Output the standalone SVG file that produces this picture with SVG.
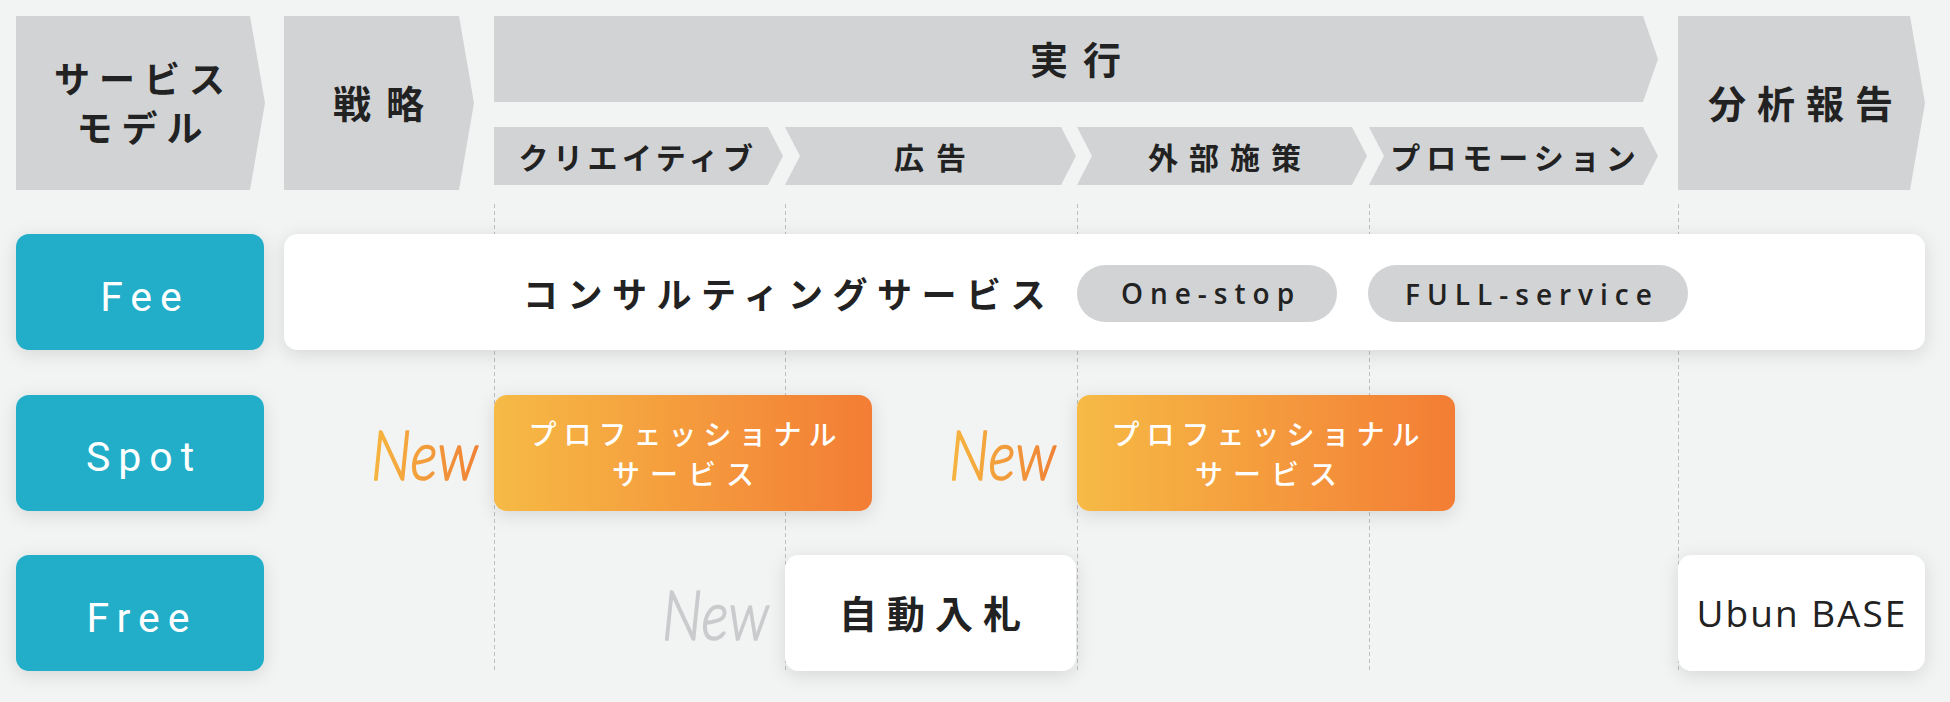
<svg xmlns="http://www.w3.org/2000/svg" width="1950" height="702" viewBox="0 0 1950 702">
  <defs>
    <linearGradient id="gOrange" x1="0" y1="0" x2="1" y2="0">
      <stop offset="0" stop-color="#f6ba45"/>
      <stop offset="1" stop-color="#f37d35"/>
    </linearGradient>
    <linearGradient id="gNew" x1="0" y1="0" x2="1" y2="0">
      <stop offset="0" stop-color="#f6b63f"/>
      <stop offset="1" stop-color="#ef8236"/>
    </linearGradient>
    <filter id="shadow" x="-20%" y="-40%" width="140%" height="180%">
      <feDropShadow dx="0" dy="4" stdDeviation="9" flood-color="#000" flood-opacity="0.12"/>
    </filter>
    <style>
      .hdr { fill: #d1d3d5; }
      .jp { font-family: "Noto Sans CJK JP", "Noto Sans", sans-serif; fill: #222; text-anchor: middle; }
      .hdrTxt { font-size: 38px; font-weight: 700; }
      .subTxt { font-size: 30px; font-weight: 700; }
      .teal { fill: #20aec8; filter: url(#shadow); }
      .tealTxt { font-family: Roboto, "Liberation Sans", sans-serif; font-size: 41px; fill: #fff; text-anchor: middle; letter-spacing: 8px; }
      .white { fill: #fff; filter: url(#shadow); }
      .orange { fill: url(#gOrange); filter: url(#shadow); }
      .orangeTxt { font-family: "Noto Sans CJK JP", sans-serif; font-size: 28px; font-weight: 500; fill: #fff; text-anchor: middle; }
      .pill { fill: #d1d3d5; }
      .pillTxt { font-family: "Open Sans", "Noto Sans", sans-serif; font-size: 28px; font-weight: 600; fill: #222; text-anchor: middle; letter-spacing: 7px; }
      .new { font-family: Lato, "Liberation Sans", sans-serif; font-style: italic; font-weight: 300; font-size: 70px; stroke-width: 1.6px; stroke-linejoin: round; }
      .guide { stroke: #bdbfc1; stroke-width: 1; stroke-dasharray: 4 3; fill: none; }
    </style>
  </defs>

  <rect width="1950" height="702" fill="#f2f3f3"/>

  <g id="connectors">
    <line class="guide" x1="494.5" y1="204" x2="494.5" y2="671"/>
    <line class="guide" x1="785.5" y1="204" x2="785.5" y2="671"/>
    <line class="guide" x1="1077.5" y1="204" x2="1077.5" y2="671"/>
    <line class="guide" x1="1369.5" y1="204" x2="1369.5" y2="671"/>
    <line class="guide" x1="1678.5" y1="204" x2="1678.5" y2="671"/>
  </g>

  <g id="hdr-service-model">
    <path class="hdr" d="M16,16 H250 L265,103 L250,190 H16 Z"/>
    <text class="jp" style="font-size:36px;font-weight:700;letter-spacing:9px" x="144" y="93">サービス</text>
    <text class="jp" style="font-size:36px;font-weight:700;letter-spacing:9px" x="144" y="142">モデル</text>
  </g>

  <g id="hdr-strategy">
    <path class="hdr" d="M284,16 H459 L474,103 L459,190 H284 Z"/>
    <text class="jp hdrTxt" style="letter-spacing:15px" x="386" y="118">戦略</text>
  </g>

  <g id="hdr-execution">
    <path class="hdr" d="M494,16 H1643 L1658,59 L1643,102 H494 Z"/>
    <text class="jp hdrTxt" style="letter-spacing:15px" x="1083" y="74">実行</text>
  </g>

  <g id="hdr-creative">
    <path class="hdr" d="M494,127 H768 L783,156 L768,185 H494 Z"/>
    <text class="jp subTxt" style="letter-spacing:4.5px" x="638" y="169">クリエイティブ</text>
  </g>

  <g id="hdr-ads">
    <path class="hdr" d="M785,127 H1061 L1076,156 L1061,185 H785 L800,156 Z"/>
    <text class="jp subTxt" style="letter-spacing:12px" x="936" y="169">広告</text>
  </g>

  <g id="hdr-external">
    <path class="hdr" d="M1077,127 H1352 L1367,156 L1352,185 H1077 L1092,156 Z"/>
    <text class="jp subTxt" style="letter-spacing:11px" x="1230" y="169">外部施策</text>
  </g>

  <g id="hdr-promotion">
    <path class="hdr" d="M1369,127 H1643 L1658,156 L1643,185 H1369 L1384,156 Z"/>
    <text class="jp subTxt" style="letter-spacing:6px" x="1516" y="169">プロモーション</text>
  </g>

  <g id="hdr-analysis">
    <path class="hdr" d="M1678,16 H1910 L1925,103 L1910,190 H1678 Z"/>
    <text class="jp hdrTxt" style="letter-spacing:11px" x="1806" y="118">分析報告</text>
  </g>

  <g id="row-fee">
    <rect class="teal" x="16" y="234" width="248" height="116" rx="13"/>
    <text class="tealTxt" x="145" y="311">Fee</text>
  </g>

  <g id="row-spot">
    <rect class="teal" x="16" y="395" width="248" height="116" rx="13"/>
    <text class="tealTxt" x="144" y="471">Spot</text>
  </g>

  <g id="row-free">
    <rect class="teal" x="16" y="555" width="248" height="116" rx="13"/>
    <text class="tealTxt" x="142" y="632">Free</text>
  </g>

  <g id="consulting">
    <rect class="white" x="284" y="234" width="1641" height="116" rx="14"/>
    <text class="jp" style="font-size:35px;font-weight:700;letter-spacing:9.5px" x="789" y="308">コンサルティングサービス</text>
  </g>

  <g id="pill-onestop">
    <rect class="pill" x="1077" y="265" width="260" height="57" rx="28.5"/>
    <text class="pillTxt" x="1211" y="304">One-stop</text>
  </g>

  <g id="pill-fullservice">
    <rect class="pill" x="1368" y="265" width="320" height="57" rx="28.5"/>
    <text class="pillTxt" x="1532" y="305">FULL-service</text>
  </g>

  <g id="new-1">
    <text class="new" fill="url(#gNew)" stroke="url(#gNew)" x="371" y="480" textLength="107" lengthAdjust="spacingAndGlyphs">New</text>
  </g>

  <g id="pro-service-1">
    <rect class="orange" x="494" y="395" width="378" height="116" rx="13"/>
    <text class="orangeTxt" style="letter-spacing:7px" x="686" y="445">プロフェッショナル</text>
    <text class="orangeTxt" style="letter-spacing:10px" x="688" y="485">サービス</text>
  </g>

  <g id="new-2">
    <text class="new" fill="url(#gNew)" stroke="url(#gNew)" x="949" y="480" textLength="107" lengthAdjust="spacingAndGlyphs">New</text>
  </g>

  <g id="pro-service-2">
    <rect class="orange" x="1077" y="395" width="378" height="116" rx="13"/>
    <text class="orangeTxt" style="letter-spacing:7px" x="1269" y="445">プロフェッショナル</text>
    <text class="orangeTxt" style="letter-spacing:10px" x="1271" y="485">サービス</text>
  </g>

  <g id="new-3">
    <text class="new" fill="#c9cbcd" stroke="#c9cbcd" x="662" y="640" textLength="107" lengthAdjust="spacingAndGlyphs">New</text>
  </g>

  <g id="auto-bid">
    <rect class="white" x="785" y="555" width="291" height="116" rx="14"/>
    <text class="jp" style="font-size:38px;font-weight:700;letter-spacing:10px" x="935" y="628">自動入札</text>
  </g>

  <g id="ubun-base">
    <rect class="white" x="1678" y="555" width="247" height="116" rx="14"/>
    <text style="font-family:'Open Sans','Noto Sans',sans-serif;font-size:37px;font-weight:500;fill:#222;text-anchor:middle;letter-spacing:2px" x="1802" y="627">Ubun BASE</text>
  </g>
</svg>
